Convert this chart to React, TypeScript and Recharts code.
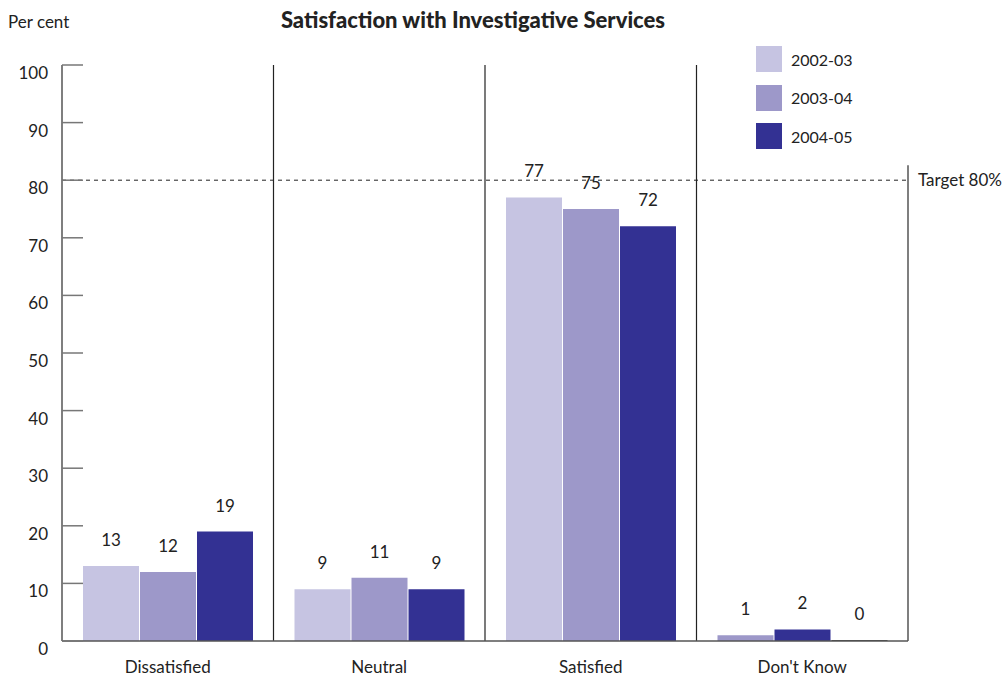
import {
  BarChart,
  Bar,
  XAxis,
  YAxis,
  ReferenceLine,
  LabelList,
  Cell,
} from 'recharts'

const categories = ['Dissatisfied', 'Neutral', 'Satisfied', "Don't Know"]
// values per bar slot, read left to right within each category
const y2002 = [13, 9, 77, 1]
const y2003 = [12, 11, 75, 2]
const y2004 = [19, 9, 72, 0]
const series = [
  { key: 'y2002', name: '2002-03', color: '#c6c4e2' },
  { key: 'y2003', name: '2003-04', color: '#9d98c9' },
  { key: 'y2004', name: '2004-05', color: '#333193' },
]
// in the source the Don't Know bars are drawn one colour along
const dkColors = ['#9d98c9', '#333193', '#444']
const yTicks = [0, 10, 20, 30, 40, 50, 60, 70, 80, 90, 100]
const target = 80

const data = categories.map((c, i) => ({
  category: c,
  y2002: y2002[i],
  y2003: y2003[i],
  y2004: y2004[i],
}))

const FONT = 'Lato, "Open Sans", sans-serif'

function YTick(props: any) {
  const { x, y, payload } = props
  return (
    <g>
      <line x1={x + 14} x2={x + 35} y1={y} y2={y} stroke="#777" strokeWidth={1.5} />
      <text x={x} y={y + 14} textAnchor="end" fontSize={17} fill="#222" fontFamily={FONT}>
        {payload.value}
      </text>
    </g>
  )
}

function LegendBox() {
  return (
    <div style={{ position: 'absolute', left: 756, top: 40, fontFamily: FONT }}>
      {series.map((s) => (
        <div key={s.key} style={{ display: 'flex', alignItems: 'center', height: 38.5 }}>
          <div style={{ width: 26, height: 26, background: s.color, marginRight: 9 }} />
          <span style={{ fontSize: 16, color: '#222' }}>{s.name}</span>
        </div>
      ))}
    </div>
  )
}

function ValueLabel(props: any) {
  const { x, y, width, value } = props
  return (
    <text
      x={x + width / 2}
      y={y - 20}
      textAnchor="middle"
      fontSize={17}
      fill="#222"
      fontFamily={FONT}
    >
      {String(value)}
    </text>
  )
}

export default function App() {
  return (
    <div style={{ position: 'absolute', left: 0, top: 0, width: 1004, height: 677, background: '#fff' }}>
      <div
        style={{
          position: 'absolute',
          left: 8,
          top: 11,
          fontFamily: FONT,
          fontSize: 17,
          color: '#222',
        }}
      >
        Per cent
      </div>
      <div
        style={{
          position: 'absolute',
          left: 0,
          width: 946,
          top: 6,
          textAlign: 'center',
          fontFamily: FONT,
          fontWeight: 900,
          fontSize: 22,
          color: '#222',
        }}
      >
        Satisfaction with Investigative Services
      </div>
      <LegendBox />
      <BarChart
        width={1004}
        height={677}
        data={data}
        margin={{ top: 65, right: 96, bottom: 6, left: 0 }}
        barCategoryGap={21}
        barGap={1}
        style={{ position: 'absolute', left: 0, top: 0 }}
      >
        <XAxis
          dataKey="category"
          stroke="#555"
          strokeWidth={1.5}
          tickLine={false}
          height={30}
          tick={{ fontSize: 17, fill: '#222', fontFamily: FONT }}
          tickMargin={14}
        />
        <YAxis
          domain={[0, 100]}
          ticks={yTicks}
          width={62}
          stroke="#555"
          strokeWidth={1.5}
          tickLine={false}
          tickSize={0}
          tickMargin={14}
          tick={<YTick />}
          interval={0}
        />
        {categories.slice(0, 3).map((c) => (
          <ReferenceLine key={c} x={c} position="end" stroke="#222" strokeWidth={1.2} />
        ))}
        <ReferenceLine
          segment={[
            { x: categories[3], y: 0 },
            { x: categories[3], y: 82.6 },
          ]}
          position="end"
          stroke="#555"
          strokeWidth={1.5}
        />
        <ReferenceLine
          y={target}
          stroke="#222"
          strokeDasharray="4 4"
          label={{
            value: 'Target 80%',
            position: 'right',
            offset: 10,
            fontSize: 17,
            fill: '#222',
            fontFamily: FONT,
          }}
        />
        {series.map((s, i) => (
          <Bar
            key={s.key}
            dataKey={s.key}
            name={s.name}
            fill={s.color}
            minPointSize={1}
            isAnimationActive={false}
          >
            {data.map((d, j) => (
              <Cell key={d.category} fill={j === 3 ? dkColors[i] : s.color} />
            ))}
            <LabelList content={<ValueLabel />} />
          </Bar>
        ))}
      </BarChart>
    </div>
  )
}
